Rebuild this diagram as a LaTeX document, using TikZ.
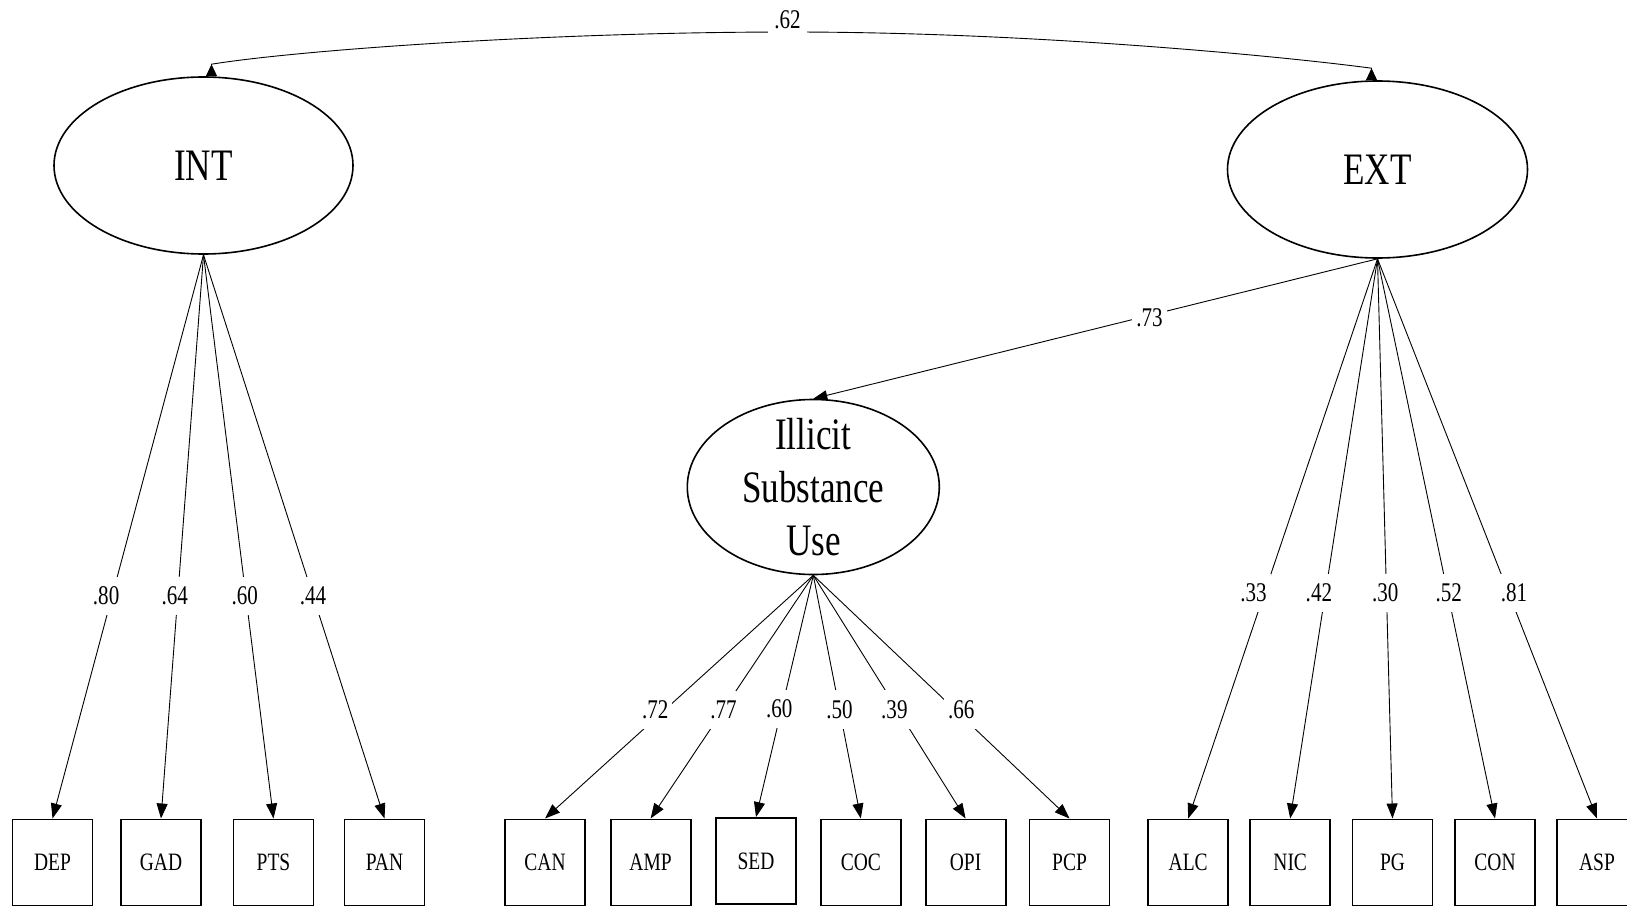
\documentclass[tikz,border=0pt]{standalone}
\usepackage{fontspec}
\setmainfont{Liberation Serif}[FakeStretch=0.78]
\usetikzlibrary{arrows.meta,shapes.geometric}

\begin{document}
\begin{tikzpicture}[x=1pt,y=-1pt,
  latent/.style={draw, ellipse, line width=1.6pt, inner sep=0pt,
    font=\fontsize{45}{53}\selectfont},
  obs/.style={draw, rectangle, line width=1.8pt, minimum width=80pt,
    minimum height=86pt, inner sep=0pt, font=\fontsize{25}{30}\selectfont},
  ld/.style={line width=0.9pt, -{Triangle[length=15pt,width=11pt]}},
  coef/.style={fill=white, inner xsep=4pt, inner ysep=10pt,
    font=\fontsize{27}{32}\selectfont},
  cov/.style={line width=0.9pt,
    {Triangle[reversed,length=12pt,width=11pt]}-{Triangle[reversed,length=12pt,width=11pt]}},
]
\useasboundingbox (0,0) rectangle (1627,907);

% latent factors
\node[latent, minimum width=299pt, minimum height=177pt] (INT) at (203.5,165.5) {INT};
\node[latent, minimum width=300pt, minimum height=177pt] (EXT) at (1377.5,169.5) {EXT};
\node[latent, minimum width=252pt, minimum height=175pt] (ILL) at (813.3,487) {};
\node[align=center, font=\fontsize{45}{52.7}\selectfont] (ILLtxt) at (ILL.center)
  {Illicit\\Substance\\Use};

% indicators
\node[obs] (DEP) at (52.5,862.4) {DEP};
\node[obs] (GAD) at (161,862.4) {GAD};
\node[obs] (PTS) at (273.5,862.4) {PTS};
\node[obs] (PAN) at (384.5,862.4) {PAN};

\node[obs] (CAN) at (545,862.4) {CAN};
\node[obs] (AMP) at (650.6,862.4) {AMP};
\node[obs] (SED) at (756,861) {SED};
\node[obs] (COC) at (860.8,862.4) {COC};
\node[obs] (OPI) at (965.6,862.4) {OPI};
\node[obs] (PCP) at (1069.5,862.4) {PCP};

\node[obs] (ALC) at (1188.2,862.4) {ALC};
\node[obs] (NIC) at (1290.2,862.4) {NIC};
\node[obs] (PG)  at (1392.5,862.4) {PG};
\node[obs] (CON) at (1495,862.4) {CON};
\node[obs] (ASP) at (1597,862.4) {ASP};

% factor correlation
\draw[cov] ([xshift=8pt]INT.north) -- ([xshift=8pt,yshift=12pt]INT.north)
  .. controls (300,50) and (550,32) .. (790,32)
  node[fill=white, anchor=base, xshift=-2.5pt, yshift=3pt, inner xsep=6.5pt,
       inner ysep=6pt, font=\fontsize{27}{32}\selectfont] (r62) {.62}
  .. controls (1030,32) and (1280,56) .. ([xshift=-6pt,yshift=12pt]EXT.north)
  -- ([xshift=-6pt]EXT.north);

% structural path
\draw[line width=0.9pt, -{Triangle[length=14pt,width=10pt]}] (EXT.south) --
  node[coef, pos=.404, yshift=-2pt] {.73} (ILL.north);

% INT loadings
\draw[ld] (INT.south) -- node[coef, pos=.605, xshift=-6pt] {.80} (DEP.north);
\draw[ld] (INT.south) -- node[coef, pos=.605, xshift=-3pt] {.64} (GAD.north);
\draw[ld] (INT.south) -- node[coef, pos=.605, xshift=-1pt] {.60} (PTS.north);
\draw[ld] (INT.south) -- node[coef, pos=.605] {.44} (PAN.north);

% illicit substance use loadings
\draw[ld] (ILL.south) -- node[coef, pos=.552, xshift=-10pt] {.72} (CAN.north);
\draw[ld] (ILL.south) -- node[coef, pos=.552] {.77} (AMP.north);
\draw[ld] (ILL.south) -- node[coef, pos=.552, xshift=-2.5pt] {.60} (SED.north);
\draw[ld] (ILL.south) -- node[coef, pos=.552] {.50} (COC.north);
\draw[ld] (ILL.south) -- node[coef, pos=.552, xshift=-3pt] {.39} (OPI.north);
\draw[ld] (ILL.south) -- node[coef, pos=.552, xshift=6.5pt] {.66} (PCP.north);

% EXT loadings
\draw[ld] (EXT.south) -- node[coef, pos=.597, xshift=-11pt] {.33} (ALC.north);
\draw[ld] (EXT.south) -- node[coef, pos=.597, xshift=-6.5pt] {.42} (NIC.north);
\draw[ld] (EXT.south) -- node[coef, pos=.597, xshift=-1.3pt] {.30} (PG.north);
\draw[ld] (EXT.south) -- node[coef, pos=.597, xshift=1pt] {.52} (CON.north);
\draw[ld] (EXT.south) -- node[coef, pos=.597, xshift=5.4pt] {.81} (ASP.north);
\end{tikzpicture}
\end{document}
